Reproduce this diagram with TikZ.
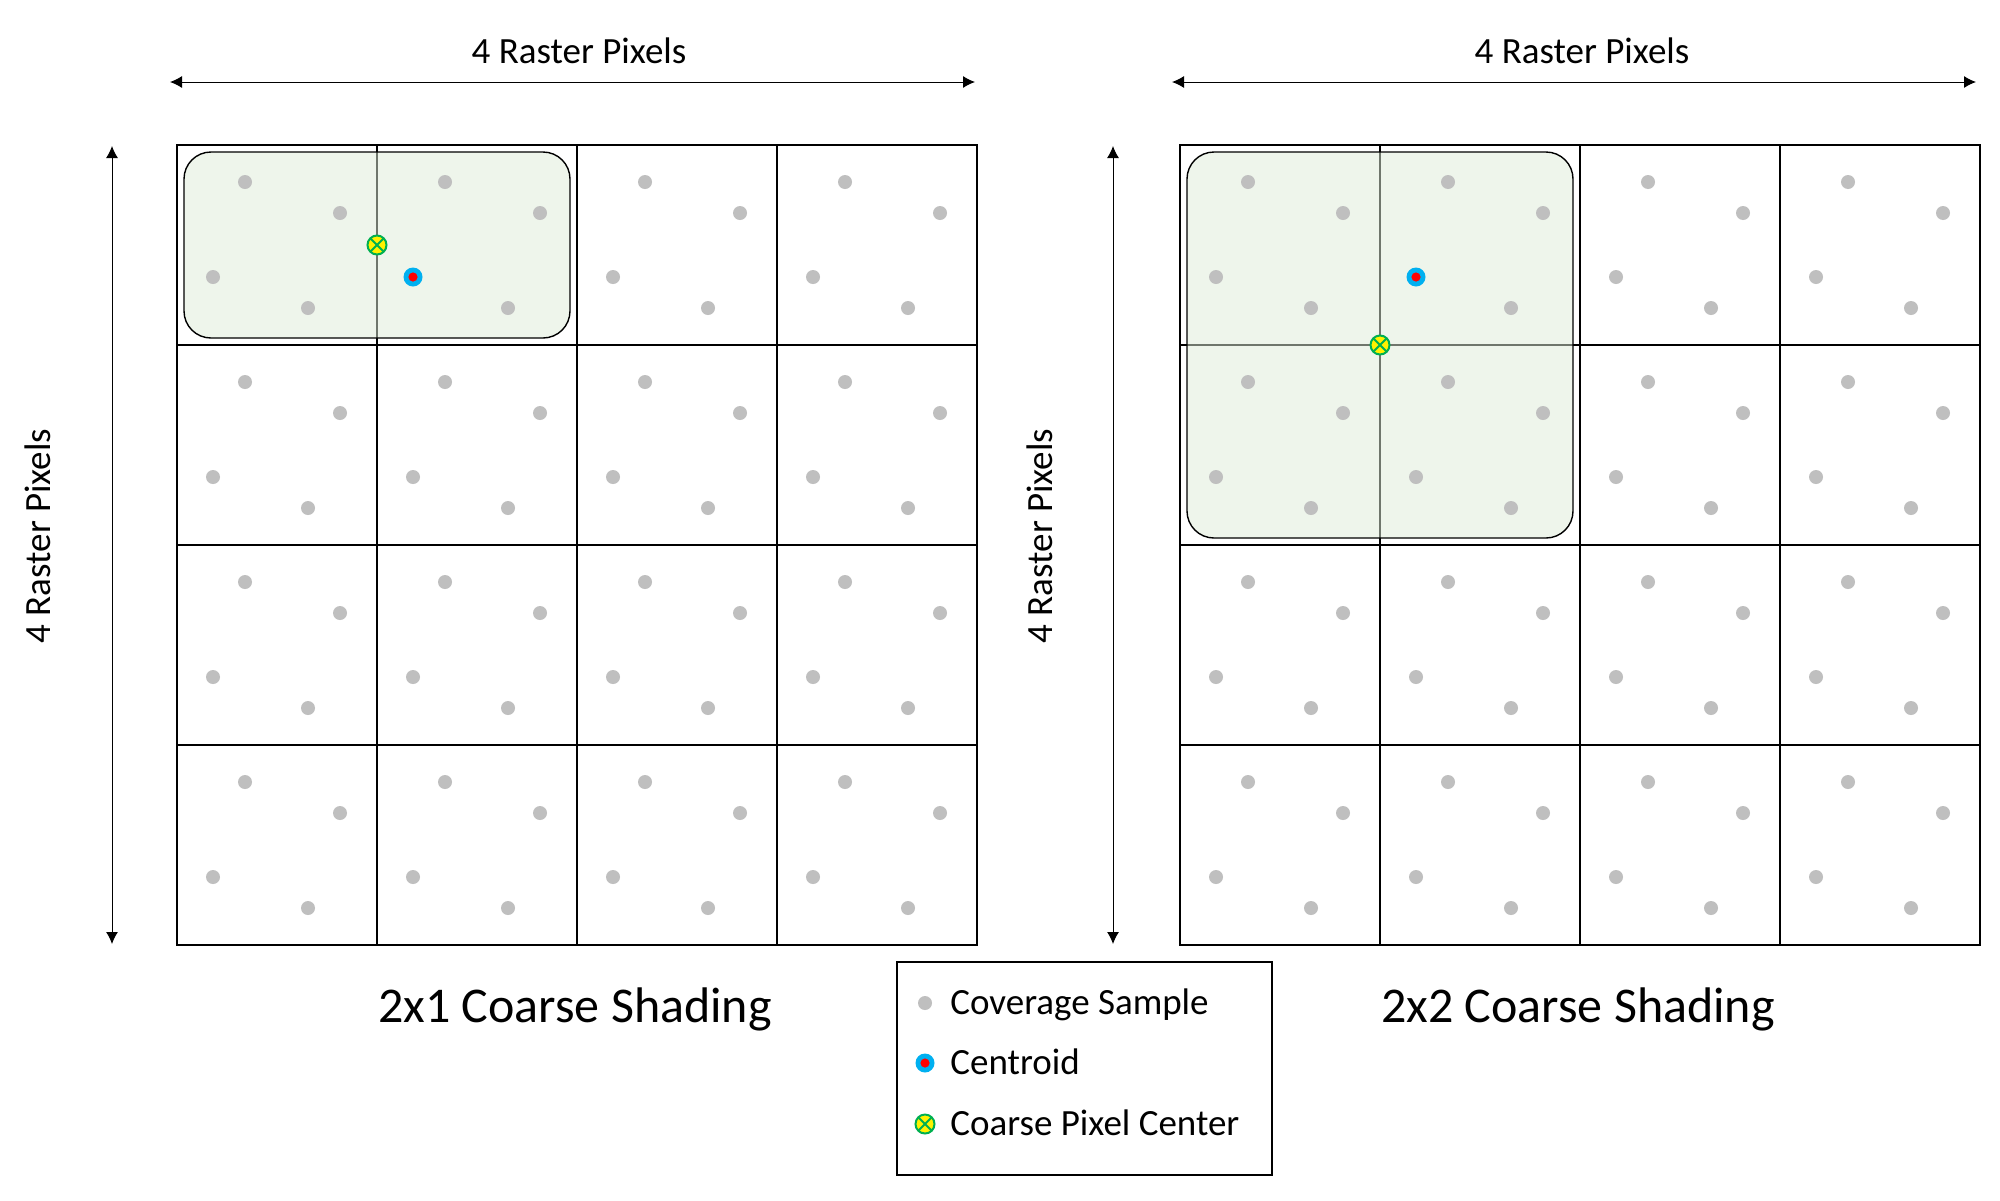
\documentclass[tikz,border=0pt]{standalone}
\usepackage{fontspec}
\setmainfont{Carlito}
\usepackage{xcolor}
\usepackage{tikz}
\usetikzlibrary{arrows.meta,positioning}
\definecolor{samplegray}{RGB}{191,191,191}
\definecolor{coarsegreen}{RGB}{223,237,217}
\definecolor{centroidblue}{RGB}{0,176,240}
\definecolor{cpcgreen}{RGB}{0,176,80}

\begin{document}
\begin{tikzpicture}[x=0.5pt,y=-0.5pt]

        \tikzstyle{cell}=[draw=black,line width=0.7pt]
        \tikzstyle{coarse}=[draw=black,line width=0.7pt,fill=coarsegreen,fill opacity=0.5,rounded corners=13.5pt]
        \tikzstyle{sample}=[circle,fill=samplegray,inner sep=0pt,minimum size=7pt]
        \tikzstyle{centroid}=[circle,fill=centroidblue,inner sep=0pt,minimum size=9.5pt,
          path picture={\fill[red] (path picture bounding box.center) circle (2.3pt);}]
        \tikzstyle{cpc}=[circle,draw=cpcgreen,fill=yellow,line width=1pt,inner sep=0pt,minimum size=9.5pt,
          path picture={\draw[cpcgreen,line width=1pt]
            (path picture bounding box.north west) -- (path picture bounding box.south east)
            (path picture bounding box.south west) -- (path picture bounding box.north east);}]
        \tikzstyle{dimarrow}=[<->,>={Latex[length=6pt,width=6pt]},line width=0.5pt]
        \tikzstyle{dimlabel}=[inner sep=0pt,font=\fontsize{18.5}{22}\selectfont]
        \tikzstyle{caption}=[inner sep=0pt,anchor=base,font=\fontsize{25}{30}\selectfont]
        \tikzstyle{legendtext}=[inner sep=0pt,anchor=base west,font=\fontsize{18.5}{22}\selectfont]

        \fill[white] (0,0) rectangle (2000,1200);
        \useasboundingbox (0,0) rectangle (2000,1200);

        % raster pixels
        \foreach \gx in {0,...,3}
          \foreach \gy in {0,...,3}{
            \draw[cell] ({177+200*\gx},{145+200*\gy}) rectangle ++(200,200);
            \draw[cell] ({1180+200*\gx},{145+200*\gy}) rectangle ++(200,200);
          }

        % coarse pixels
        \draw[coarse] (184,152) rectangle (570,338);
        \draw[coarse] (1187,152) rectangle (1573,538);

        % coverage samples
        \foreach \gx in {0,...,3}
          \foreach \gy in {0,...,3}
            \foreach \sx/\sy [count=\k] in {68/37,163/68,36/132,131/163}{
              \node[sample] (sL\gx\gy\k) at ({177+200*\gx+\sx},{145+200*\gy+\sy}) {};
              \node[sample] (sR\gx\gy\k) at ({1180+200*\gx+\sx},{145+200*\gy+\sy}) {};
            }

        \node[centroid] (cL) at (413,277) {};
        \node[cpc] (pL) at (377,245) {};
        \node[centroid] (cR) at (1416,277) {};
        \node[cpc] (pR) at (1380,345) {};

        % dimensions
        \coordinate (hL1) at (170,82);
        \coordinate (hL2) at (975,82);
        \coordinate (hR1) at (1172,82);
        \coordinate (hR2) at (1976,82);
        \coordinate (vL1) at (112,146);
        \coordinate (vL2) at (112,944);
        \coordinate (vR1) at (1113,146);
        \coordinate (vR2) at (1113,944);
        \draw[dimarrow] (hL1) -- (hL2);
        \draw[dimarrow] (hR1) -- (hR2);
        \draw[dimarrow] (vL1) -- (vL2);
        \draw[dimarrow] (vR1) -- (vR2);

        \node[dimlabel,anchor=base] (wL) at (579,63) {4 Raster Pixels};
        \node[dimlabel,anchor=base] (wR) at (1582,63) {4 Raster Pixels};
        \node[dimlabel,anchor=base,rotate=90] (hL) at (50,536) {4 Raster Pixels};
        \node[dimlabel,anchor=base,rotate=90] (hR) at (1052,536) {4 Raster Pixels};

        \node[caption] (capL) at (575,1022) {2x1 Coarse Shading};
        \node[caption] (capR) at (1578,1022) {2x2 Coarse Shading};

        % legend
        \draw[cell] (897,962) rectangle (1272,1175);
        \node[sample] (lgS) at (925,1003) {};
        \node[centroid] (lgC) at (925,1063) {};
        \node[cpc] (lgP) at (925,1124) {};
        \node[legendtext] (tS) at (950,1014) {Coverage Sample};
        \node[legendtext] (tC) at (950,1074) {Centroid};
        \node[legendtext] (tP) at (950,1135) {Coarse Pixel Center};
      \end{tikzpicture}
\end{document}
